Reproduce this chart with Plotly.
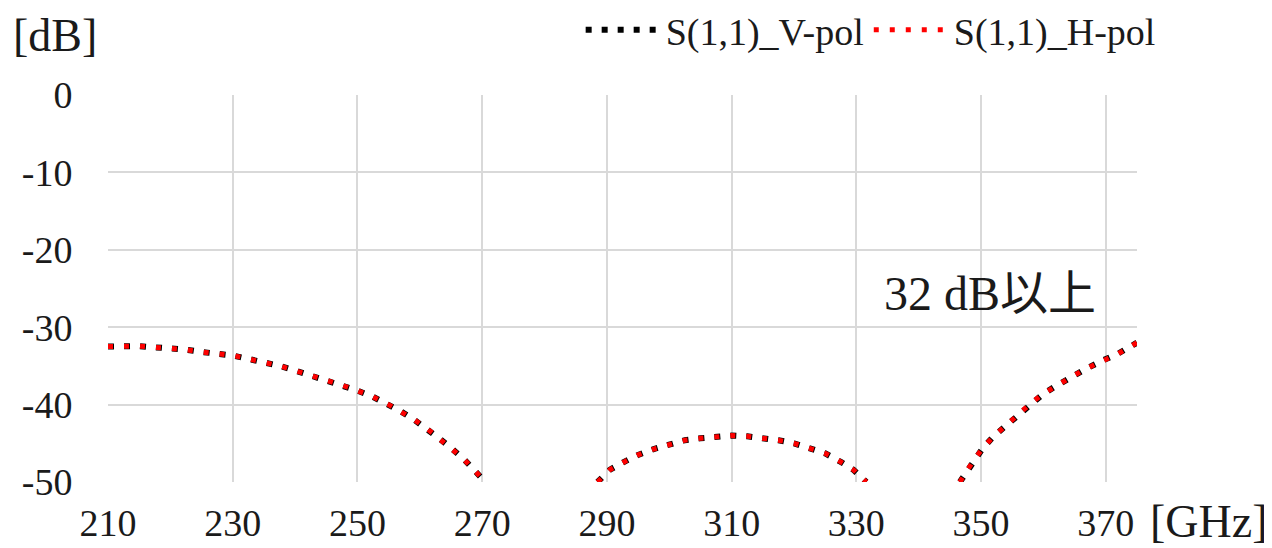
import plotly.graph_objects as go

# ---- data ----
freq_seg1 = [210, 212.5, 215, 217.5, 220, 222.5, 225, 227.5, 230, 232.5, 235, 237.5, 240,
             242.5, 245, 247.5, 250, 252.5, 255, 257, 259, 261, 263, 265, 267, 269, 270.5]
s11_seg1 = [-32.5, -32.45, -32.45, -32.6, -32.7, -32.9, -33.2, -33.4, -33.65, -34.1, -34.5,
            -35.0, -35.6, -36.2, -36.8, -37.5, -38.2, -39.0, -40.0, -40.9, -41.9, -43.0,
            -44.3, -45.6, -47.0, -48.7, -50.0]

freq_seg2 = [288.5, 290.5, 293, 295, 297.5, 300, 302.5, 305, 307.5, 310, 312.5, 315, 317.5,
             320, 322.5, 325, 327.5, 329.5, 331.6]
s11_seg2 = [-50.0, -48.4, -47.3, -46.5, -45.75, -45.1, -44.6, -44.35, -44.1, -44.0, -44.1,
            -44.3, -44.6, -45.0, -45.6, -46.3, -47.4, -48.4, -50.0]

freq_seg3 = [346.6, 348.8, 350.3, 352, 354, 356, 358, 360, 362, 364.5, 367, 369.5, 372, 375]
s11_seg3 = [-50.0, -47.2, -45.6, -44.1, -42.7, -41.2, -39.8, -38.6, -37.6, -36.4, -35.3,
            -34.3, -33.4, -32.0]

series_names = ["S(1,1)_V-pol", "S(1,1)_H-pol"]
x_ticks = [210, 230, 250, 270, 290, 310, 330, 350, 370]
y_ticks = [0, -10, -20, -30, -40, -50]

freq = freq_seg1 + [None] + freq_seg2 + [None] + freq_seg3
s11_v = s11_seg1 + [None] + s11_seg2 + [None] + s11_seg3
s11_h = s11_seg1 + [None] + s11_seg2 + [None] + s11_seg3

SERIF = "Liberation Serif, Times New Roman, serif"
TXT = "#1a1a1a"

fig = go.Figure()
fig.add_trace(go.Scatter(x=freq, y=s11_v, mode="lines", name=series_names[0],
                         line=dict(color="#000000", width=6, dash="6px,10px"),
                         connectgaps=False))
fig.add_trace(go.Scatter(x=freq, y=s11_h, mode="lines", name=series_names[1],
                         line=dict(color="#ff0000", width=5, dash="5px,11px"),
                         connectgaps=False))

# page has an 8px body margin, so the figure is 8px smaller and shifted
fig.update_layout(
    width=1264, height=540,
    margin=dict(l=100, r=135, t=87, b=66, autoexpand=False),
    paper_bgcolor="white", plot_bgcolor="white",
    font=dict(family=SERIF, size=38, color=TXT),
    showlegend=True,
    legend=dict(orientation="h", x=1.023, xanchor="right", y=1.168, yanchor="middle",
                font=dict(family=SERIF, size=38, color=TXT),
                itemwidth=75, bgcolor="rgba(0,0,0,0)", tracegroupgap=0),
    xaxis=dict(range=[210, 375], tickvals=x_ticks, ticktext=[str(v) for v in x_ticks],
               showgrid=True, gridcolor="#d9d9d9", gridwidth=2, zeroline=False,
               showline=False, ticks="outside", ticklen=7, tickcolor="rgba(0,0,0,0)",
               tickfont=dict(family=SERIF, size=38, color=TXT)),
    yaxis=dict(range=[-50, 0], tickvals=y_ticks, ticktext=[str(v) for v in y_ticks],
               showgrid=True, gridcolor="#d9d9d9", gridwidth=2, zeroline=False,
               showline=False, ticks="outside", ticklen=27, tickcolor="rgba(0,0,0,0)",
               tickfont=dict(family=SERIF, size=38, color=TXT)),
    annotations=[
        dict(text="[dB]", xref="paper", yref="paper", x=-0.094, y=1.155,
             xanchor="left", yanchor="middle", showarrow=False,
             font=dict(family=SERIF, size=46, color=TXT)),
        dict(text="[GHz]", xref="paper", yref="paper", x=1.011, y=-0.103,
             xanchor="left", yanchor="middle", showarrow=False,
             font=dict(family=SERIF, size=46, color=TXT)),
        dict(text="32 dB以上", xref="x", yref="y", x=351.4, y=-25.6,
             xanchor="center", yanchor="middle", showarrow=False,
             font=dict(family="Liberation Serif, Noto Sans CJK JP, serif", size=48,
                       color=TXT)),
    ],
)

fig.write_html("out.html")
